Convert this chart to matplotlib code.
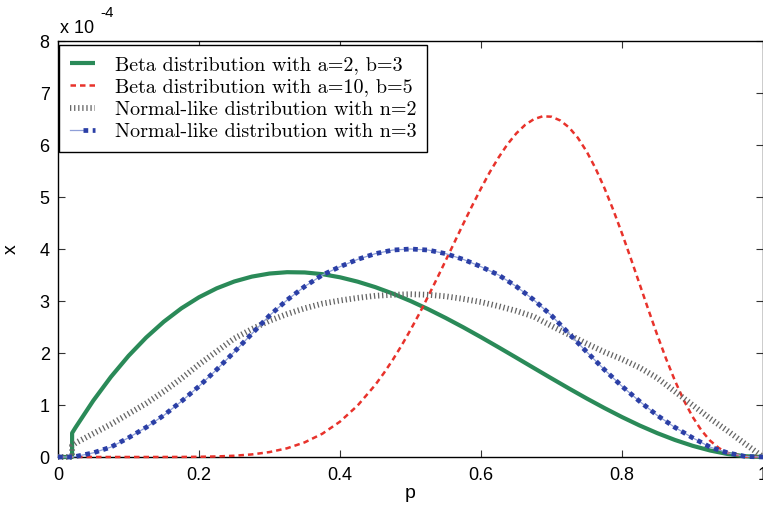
import matplotlib
matplotlib.use("Agg")
import matplotlib.pyplot as plt
from matplotlib.legend_handler import HandlerTuple

# p grid (first two points = zero lead-in, duplicate 0.02 gives the vertical start)
p = [0.0, 0.02, 0.02, 0.025, 0.05, 0.075, 0.1, 0.125, 0.15, 0.175, 0.2, 0.225,
     0.25, 0.275, 0.3, 0.325, 0.35, 0.375, 0.4, 0.425, 0.45, 0.475, 0.5,
     0.525, 0.55, 0.575, 0.6, 0.625, 0.65, 0.675, 0.7, 0.725, 0.75, 0.775,
     0.8, 0.825, 0.85, 0.875, 0.9, 0.925, 0.95, 0.975, 1.0]

# values in units of 1e-4
beta_a2_b3 = [0.0, 0.0, 0.461, 0.570, 1.083, 1.540, 1.944, 2.297, 2.601, 2.859,
              3.072, 3.243, 3.375, 3.469, 3.528, 3.554, 3.549, 3.516, 3.456,
              3.372, 3.267, 3.142, 3.000, 2.843, 2.673, 2.493, 2.304, 2.109,
              1.911, 1.711, 1.512, 1.316, 1.125, 0.942, 0.768, 0.606, 0.459,
              0.328, 0.216, 0.125, 0.057, 0.015, 0.0]

# finer grid for the sharply peaked curve
p_red = [0.0, 0.1, 0.15, 0.175, 0.2, 0.225, 0.25, 0.275, 0.3, 0.325, 0.35,
         0.375, 0.4, 0.425, 0.45, 0.4625, 0.475, 0.4875, 0.5, 0.5125, 0.525,
         0.5375, 0.55, 0.5625, 0.575, 0.5875, 0.6, 0.6125, 0.625, 0.6375,
         0.65, 0.6625, 0.675, 0.6875, 0.7, 0.7125, 0.725, 0.7375, 0.75,
         0.7625, 0.775, 0.7875, 0.8, 0.8125, 0.825, 0.8375, 0.85, 0.8625,
         0.875, 0.8875, 0.9, 0.9125, 0.925, 0.9375, 0.95, 0.975, 1.0]
beta_a10_b5 = [0.0, 0.0, 0.0005, 0.001, 0.0042, 0.0107, 0.0242, 0.0497,
               0.0946, 0.168, 0.282, 0.448, 0.680, 0.990, 1.386, 1.619, 1.872,
               2.148, 2.444, 2.757, 3.088, 3.430, 3.781, 4.134, 4.488, 4.833,
               5.165, 5.479, 5.761, 6.013, 6.222, 6.386, 6.497, 6.552, 6.544,
               6.471, 6.336, 6.136, 5.872, 5.550, 5.175, 4.755, 4.299, 3.818,
               3.324, 2.830, 2.347, 1.890, 1.470, 1.095, 0.776, 0.515, 0.314,
               0.171, 0.079, 0.006, 0.0]

normal_n2 = [0.0, 0.0, 0.22, 0.27, 0.45, 0.63, 0.83, 1.03, 1.26, 1.51, 1.78,
             2.03, 2.28, 2.46, 2.62, 2.75, 2.86, 2.95, 3.01, 3.06, 3.10, 3.12,
             3.13, 3.12, 3.09, 3.04, 2.98, 2.90, 2.81, 2.70, 2.52, 2.35, 2.18,
             2.02, 1.88, 1.72, 1.52, 1.26, 1.00, 0.74, 0.50, 0.25, 0.0]

normal_n3 = [0.0, 0.0, 0.0, 0.01, 0.08, 0.19, 0.37, 0.57, 0.80, 1.07, 1.36,
             1.68, 2.02, 2.37, 2.72, 3.02, 3.28, 3.50, 3.66, 3.80, 3.91, 3.98,
             4.00, 3.98, 3.91, 3.80, 3.66, 3.50, 3.28, 3.02, 2.72, 2.37, 2.02,
             1.68, 1.36, 1.07, 0.80, 0.57, 0.37, 0.19, 0.08, 0.01, 0.0]

labels = ["Beta distribution with a=2, b=3",
          "Beta distribution with a=10, b=5",
          "Normal-like distribution with n=2",
          "Normal-like distribution with n=3"]

xticks = [0, 0.2, 0.4, 0.6, 0.8, 1]
xticklabels = ["0", "0.2", "0.4", "0.6", "0.8", "1"]
yticks = [0, 1, 2, 3, 4, 5, 6, 7, 8]

W, H = 763, 507
fig = plt.figure(figsize=(W / 100, H / 100), dpi=100)
ax = fig.add_axes([58 / W, (H - 457) / H, (W - 58) / W, (457 - 41) / H])

sans = "Liberation Sans"

l1, = ax.plot(p, beta_a2_b3, color="#2a8a58", lw=3.0, solid_capstyle="butt",
              solid_joinstyle="round", zorder=3, clip_on=False)
l2, = ax.plot(p_red, beta_a10_b5, color="#e8322b", lw=1.8, dashes=(2.2, 1.6),
              zorder=3, clip_on=False)
l3, = ax.plot(p, normal_n2, color="#666666", lw=4.2, dashes=(0.22, 0.48),
              dash_capstyle="butt", zorder=3, clip_on=False)
l4b, = ax.plot(p, normal_n3, color="#8f9fd8", lw=0.9, zorder=3, clip_on=False)
l4, = ax.plot(p, normal_n3, color="#2b3fa6", lw=3.4, dashes=(1.0, 0.95),
              dash_capstyle="butt", zorder=3.1, clip_on=False)

ax.set_xlim(0, 1)
ax.set_ylim(0, 8)
ax.set_xticks(xticks)
ax.set_xticklabels(xticklabels)
ax.set_yticks(yticks)
ax.tick_params(direction="in", length=5, width=0.8, top=True, right=True,
               labelsize=13, color="#333333")
ax.tick_params(axis="x", pad=7)
ax.tick_params(axis="y", pad=6)
for lab in ax.get_xticklabels() + ax.get_yticklabels():
    lab.set_fontfamily(sans)
for s in ax.spines.values():
    s.set_linewidth(1.0)
    s.set_color("black")

ax.set_xlabel("p", fontfamily=sans, fontsize=14, labelpad=1)
ax.set_ylabel("x", fontfamily=sans, fontsize=14, labelpad=14)

fig.text(60 / W, 1 - 33 / H, "x 10", fontfamily=sans, fontsize=13,
         ha="left", va="baseline")
fig.text(100 / W, 1 - 17 / H, "-4", fontfamily=sans, fontsize=11,
         ha="left", va="baseline")

leg = ax.legend([l1, l2, l3, (l4b, l4)], labels,
                handler_map={tuple: HandlerTuple(ndivide=None, pad=0)},
                loc="upper left", bbox_to_anchor=(0.002, 0.99),
                borderaxespad=0, fancybox=False, frameon=True,
                edgecolor="black", framealpha=1, handlelength=1.2,
                handletextpad=1.0, borderpad=0.55, labelspacing=0.2,
                prop={"family": "cmr10", "size": 14.5})
leg.get_frame().set_linewidth(1.0)

fig.savefig("out.png", dpi=100)
